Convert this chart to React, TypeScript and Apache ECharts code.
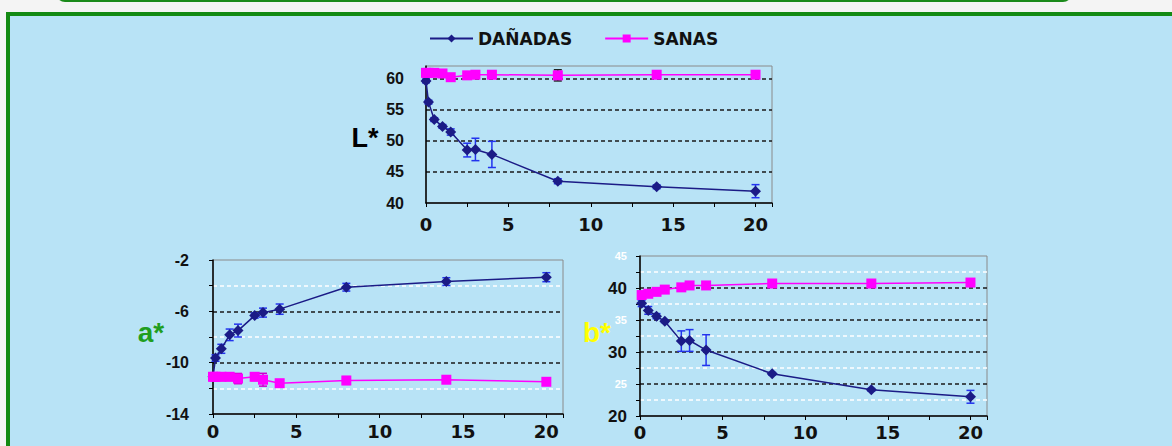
import React, { useEffect, useRef } from 'react';
import * as echarts from 'echarts';

// ---- data ----
const seriesNames = ['DAÑADAS', 'SANAS'];
const xTickLabels = [0, 5, 10, 15, 20];

const daysL = [0, 0.15, 0.5, 1, 1.5, 2.5, 3, 4, 8, 14, 20];
const damagedL = [59.6, 56.2, 53.4, 52.3, 51.4, 48.5, 48.6, 47.8, 43.5, 42.6, 41.9];
const damagedLErr = [0.3, 0.3, 0.3, 0.3, 0.5, 1.1, 1.8, 2.1, 0.4, 0.3, 1.05];
const healthyL = [60.9, 60.9, 60.9, 60.8, 60.2, 60.5, 60.6, 60.6, 60.5, 60.6, 60.6];
const healthyLErr = [0.6, 0, 0.3, 0, 0, 0, 0, 0, 0.9, 0, 0];

const daysA = [0, 0.15, 0.5, 1, 1.5, 2.5, 3, 4, 8, 14, 20];
const damagedA = [-11.1, -9.64, -8.92, -7.83, -7.5, -6.33, -6.1, -5.83, -4.12, -3.68, -3.34];
const damagedAErr = [0.2, 0.25, 0.35, 0.45, 0.5, 0.2, 0.35, 0.4, 0.3, 0.3, 0.35];
const healthyA = [-11.1, -11.1, -11.1, -11.1, -11.24, -11.1, -11.33, -11.6, -11.39, -11.33, -11.49];
const healthyAErr = [0.3, 0.3, 0.3, 0.3, 0.4, 0.3, 0.5, 0.2, 0.3, 0.2, 0.2];

const daysB = [0.1, 0.5, 1, 1.5, 2.5, 3, 4, 8, 14, 20];
const damagedB = [37.6, 36.5, 35.6, 34.8, 31.7, 31.8, 30.3, 26.6, 24.1, 23.0];
const damagedBErr = [0.5, 0.6, 0.4, 0.2, 1.6, 1.7, 2.4, 0.2, 0.2, 1.0];
const healthyB = [38.9, 39.1, 39.4, 39.75, 40.1, 40.4, 40.4, 40.7, 40.7, 40.85];
const healthyBErr = [0.2, 0, 0, 0, 0, 0, 0, 0, 0, 0];

const axisTitles = ['L*', 'a*', 'b*'];

// ---- styles ----
const NAVY = '#1b1b86';
const BLUE = '#2233ee';
const PINK = '#ff00ff';
const FONT = '"Liberation Sans", Arial, sans-serif';
const WIDE = '"DejaVu Sans", sans-serif';

function pairs(xs: number[], ys: number[]) {
  return xs.map((x, i) => [x, ys[i]]);
}
function bars(xs: number[], ys: number[], es: number[]) {
  const out: number[][] = [];
  xs.forEach((x, i) => {
    if (es[i] > 0) out.push([x, ys[i] - es[i], ys[i] + es[i]]);
  });
  return out;
}

function errSeries(data: number[][], idx: number, color: string) {
  return {
    type: 'custom',
    name: 'err' + idx + color,
    xAxisIndex: idx,
    yAxisIndex: idx,
    z: 3,
    silent: true,
    encode: { x: 0, y: [1, 2] },
    data,
    renderItem: (params: any, api: any) => {
      const x = api.value(0);
      const lo = api.coord([x, api.value(1)]);
      const hi = api.coord([x, api.value(2)]);
      const w = 4;
      const st = { stroke: color, lineWidth: 1.5 };
      return {
        type: 'group',
        children: [
          { type: 'line', shape: { x1: hi[0], y1: hi[1], x2: lo[0], y2: lo[1] }, style: st },
          { type: 'line', shape: { x1: hi[0] - w, y1: hi[1], x2: hi[0] + w, y2: hi[1] }, style: st },
          { type: 'line', shape: { x1: lo[0] - w, y1: lo[1], x2: lo[0] + w, y2: lo[1] }, style: st },
        ],
      };
    },
  };
}

function lineSeries(name: string, data: number[][], idx: number) {
  const damaged = name === seriesNames[0];
  return {
    type: 'line',
    name,
    xAxisIndex: idx,
    yAxisIndex: idx,
    data,
    z: damaged ? 4 : 5,
    symbol: damaged ? 'diamond' : 'rect',
    symbolSize: damaged ? 11 : 10,
    showAllSymbol: true,
    lineStyle: { color: damaged ? NAVY : PINK, width: 1.5 },
    itemStyle: { color: damaged ? NAVY : PINK },
  };
}

const yLabelStyle = { color: '#111', fontSize: 16, fontWeight: 'bold', fontFamily: FONT };
const xLabelStyle = { color: '#111', fontSize: 18, fontWeight: 'bold', fontFamily: WIDE };

function xAxisCfg(idx: number, margin: number) {
  return {
    type: 'value',
    gridIndex: idx,
    min: 0,
    max: 21,
    interval: 2.5,
    axisLine: { onZero: false, lineStyle: { color: '#000', width: 1.5 } },
    axisTick: { show: true, length: 4, lineStyle: { color: '#000' } },
    axisLabel: {
      ...xLabelStyle,
      margin,
      formatter: (v: number) => (xTickLabels.indexOf(v) >= 0 ? String(v) : ''),
    },
    splitLine: { show: false },
  };
}

export default function App() {
  const ref = useRef<HTMLDivElement>(null);
  useEffect(() => {
    if (!ref.current) return;
    const chart = echarts.init(ref.current, undefined, { renderer: 'svg' });
    const dashBlack = { color: '#1a1a1a', width: 1.5, type: [4, 3] };
    const dashWhite = { color: '#ffffff', width: 1.5, type: [4, 3] };
    const option: any = {
      animation: false,
      backgroundColor: '#f4f4f4',
      graphic: [
        {
          type: 'rect',
          z: -10,
          silent: true,
          shape: { x: 57, y: -40, width: 1014, height: 41, r: 8 },
          style: { fill: 'none', stroke: '#1a8a1a', lineWidth: 2 },
        },
        {
          type: 'rect',
          z: -10,
          silent: true,
          shape: { x: 8, y: 14, width: 1200, height: 500 },
          style: { fill: '#b8e3f6', stroke: '#138a13', lineWidth: 4 },
        },
        {
          type: 'text', x: 365, y: 138, silent: true,
          style: { text: axisTitles[0], fill: '#000', font: 'bold 27px ' + FONT, align: 'center', verticalAlign: 'middle' },
        },
        {
          type: 'text', x: 151, y: 332, silent: true,
          style: { text: axisTitles[1], fill: '#1f9e1f', font: 'bold 28px ' + FONT, align: 'center', verticalAlign: 'middle' },
        },
        {
          type: 'text', x: 597, y: 332, silent: true,
          style: { text: axisTitles[2], fill: '#ffff00', font: 'bold 28px ' + FONT, align: 'center', verticalAlign: 'middle' },
        },
      ],
      legend: {
        data: seriesNames,
        left: 424,
        top: 25,
        itemWidth: 43,
        itemHeight: 10,
        itemGap: 32,
        textStyle: { color: '#111', fontSize: 17, fontWeight: 'bold', fontFamily: WIDE },
      },
      grid: [
        { left: 426, top: 66, width: 346, height: 137, show: true, borderColor: '#8a8a8a', borderWidth: 1 },
        { left: 213, top: 260, width: 350, height: 154, show: true, borderColor: '#8a8a8a', borderWidth: 1 },
        { left: 640, top: 256, width: 347, height: 160, show: true, borderColor: '#8a8a8a', borderWidth: 1 },
      ],
      xAxis: [xAxisCfg(0, 12), xAxisCfg(1, 8), xAxisCfg(2, 7)],
      yAxis: [
        {
          type: 'value', gridIndex: 0, min: 40, max: 62, interval: 5,
          axisLine: { show: true, lineStyle: { color: '#000', width: 1.5 } },
          axisTick: { show: false },
          axisLabel: { ...yLabelStyle, margin: 22, formatter: (v: number) => (v % 5 === 0 ? String(v) : '') },
          splitLine: { show: true, showMinLine: false, showMaxLine: false, lineStyle: dashBlack },
        },
        {
          type: 'value', gridIndex: 1, min: -14, max: -2, interval: 4,
          axisLine: { show: true, lineStyle: { color: '#000', width: 1.5 } },
          axisTick: { show: true, length: 4, lineStyle: { color: '#000' } },
          minorTick: { show: true, splitNumber: 2, length: 4, lineStyle: { color: '#000' } },
          axisLabel: { ...yLabelStyle, margin: 24 },
          splitLine: { show: true, showMinLine: false, showMaxLine: false, lineStyle: dashBlack },
          minorSplitLine: { show: true, lineStyle: dashWhite },
        },
        {
          type: 'value', gridIndex: 2, min: 20, max: 45, interval: 5,
          axisLine: { show: true, lineStyle: { color: '#000', width: 1.5 } },
          axisTick: { show: true, length: 4, lineStyle: { color: '#000' } },
          minorTick: { show: true, splitNumber: 2, length: 4, lineStyle: { color: '#000' } },
          axisLabel: {
            margin: 13,
            formatter: (v: number) => (v % 10 === 0 ? '{k|' + v + '}' : '{w|' + v + '}'),
            rich: {
              k: { ...yLabelStyle, fontSize: 17 },
              w: { color: '#ffffff', fontSize: 11, fontWeight: 'bold', fontFamily: FONT },
            },
          },
          splitLine: { show: true, showMinLine: false, showMaxLine: false, lineStyle: dashBlack },
          minorSplitLine: { show: true, lineStyle: dashWhite },
        },
      ],
      series: [
        lineSeries(seriesNames[0], pairs(daysL, damagedL), 0),
        lineSeries(seriesNames[1], pairs(daysL, healthyL), 0),
        errSeries(bars(daysL, damagedL, damagedLErr), 0, BLUE),
        errSeries(bars(daysL, healthyL, healthyLErr), 0, '#222222'),
        lineSeries(seriesNames[0], pairs(daysA, damagedA), 1),
        lineSeries(seriesNames[1], pairs(daysA, healthyA), 1),
        errSeries(bars(daysA, damagedA, damagedAErr), 1, BLUE),
        errSeries(bars(daysA, healthyA, healthyAErr), 1, '#cc00cc'),
        lineSeries(seriesNames[0], pairs(daysB, damagedB), 2),
        lineSeries(seriesNames[1], pairs(daysB, healthyB), 2),
        errSeries(bars(daysB, damagedB, damagedBErr), 2, BLUE),
        errSeries(bars(daysB, healthyB, healthyBErr), 2, '#cc00cc'),
      ],
    };
    chart.setOption(option);
    return () => chart.dispose();
  }, []);
  return (
    <div
      ref={ref}
      style={{ position: 'fixed', left: 0, top: 0, width: 1172, height: 446 }}
    />
  );
}
